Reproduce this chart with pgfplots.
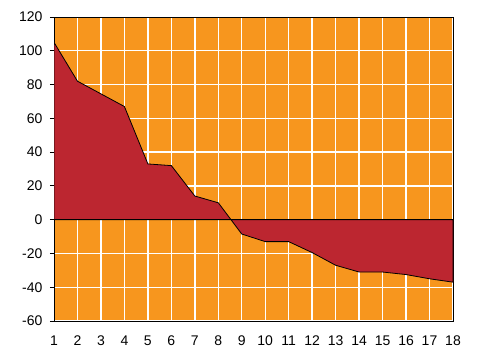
\documentclass[border=0pt]{standalone}
\usepackage{fontspec}
\setmainfont{Liberation Sans}
\usepackage{pgfplots}
\pgfplotsset{compat=1.18}
\definecolor{bgorange}{HTML}{F7961E}
\definecolor{areared}{HTML}{BC2630}
\begin{document}
\begin{tikzpicture}
\begin{axis}[
  scale only axis,
  width=399pt, height=304pt,
  xmin=1, xmax=18, ymin=-60, ymax=120,
  xtick={1,...,18}, ytick={-60,-40,...,120},
  /pgf/number format/assume math mode=true,
  tick label style={font=\fontsize{14}{16}\selectfont},
  xticklabel style={yshift=-7pt},
  yticklabel style={xshift=-4pt},
  axis background/.style={fill=bgorange},
  grid=major,
  major grid style={white, line width=1.4pt},
  axis line style={black, line width=0.8pt},
  xtick style={draw=none},
  ytick style={draw=black, line width=0.8pt},
  tick align=outside,
  major tick length=4pt,
  ytick pos=left,
  clip=true,
]
\addplot[fill=areared, draw=black, line width=0.8pt] coordinates {
(1,105) (2,82) (3,74.5) (4,67) (5,33) (6,32) (7,14) (8,10) (9,-8.5) (10,-13) (11,-13) (12,-19.5) (13,-27) (14,-31) (15,-31) (16,-32.5) (17,-35) (18,-37)
} \closedcycle;
\addplot[black, line width=0.8pt] coordinates {(1,0) (18,0)};
\end{axis}
\path ([shift={(-54pt,-33pt)}]current axis.south west) rectangle ([shift={(25pt,17pt)}]current axis.north east);
\end{tikzpicture}
\end{document}
